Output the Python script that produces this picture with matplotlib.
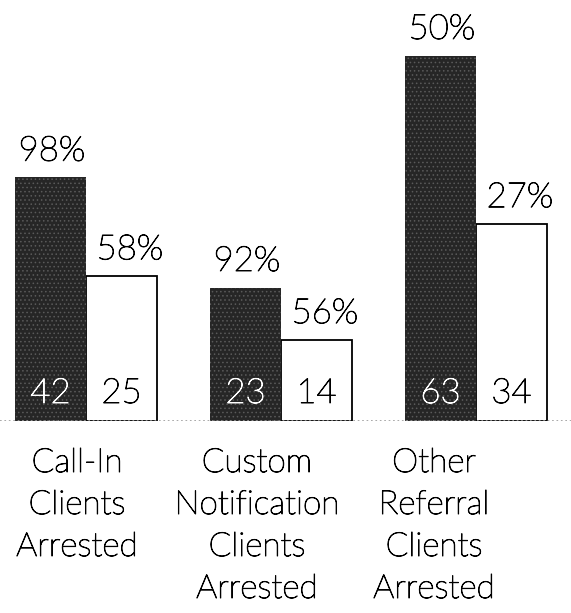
import matplotlib
matplotlib.use("Agg")
import matplotlib.pyplot as plt
import matplotlib.patheffects as pe
import numpy as np

# data
categories = ["Call-In\nClients\nArrested",
              "Custom\nNotification\nClients\nArrested",
              "Other\nReferral\nClients\nArrested"]
dark_counts = [42, 23, 63]
white_counts = [25, 14, 34]
dark_pct = ["98%", "92%", "50%"]
white_pct = ["58%", "56%", "27%"]

# layout
W, H = 571, 613
base_px = 421          # baseline, pixels from top
px_per_unit = 5.8
group_px = 195
first_px = 86
bar_w = 71 / group_px
label_shift = [-0.046, -0.123, -0.215]

plt.rcParams["font.family"] = ["Lato", "DejaVu Sans"]
plt.rcParams["hatch.color"] = "#5a5a5a"
plt.rcParams["hatch.linewidth"] = 0.6

fig = plt.figure(figsize=(W / 100, H / 100), dpi=100)
ax = fig.add_axes([0, (H - base_px) / H, 1, base_px / H])
ax.set_xlim(-first_px / group_px, (W - first_px) / group_px)
ax.set_ylim(0, base_px / px_per_unit)
ax.axis("off")

x = np.arange(len(categories))
ax.bar(x - bar_w / 2, dark_counts, bar_w, color="#262626",
       hatch="....", linewidth=0, zorder=2)
ax.bar(x + bar_w / 2, white_counts, bar_w, color="white",
       edgecolor="black", linewidth=1.3, zorder=1)

ax.axhline(0, color="#999999", linestyle=":", linewidth=1.2, zorder=3)

fs = 25
thick_k = [pe.withStroke(linewidth=0.7, foreground="black")]
thick_w = [pe.withStroke(linewidth=0.7, foreground="white")]
tk = dict(fontsize=fs, fontweight="light", color="black", path_effects=thick_k)
for i in range(len(categories)):
    ax.annotate(dark_pct[i], (x[i] - bar_w / 2, dark_counts[i]),
                xytext=(1, 12), textcoords="offset points",
                ha="center", va="baseline", **tk)
    ax.annotate(white_pct[i], (x[i] + bar_w / 2, white_counts[i]),
                xytext=(6, 12), textcoords="offset points",
                ha="center", va="baseline", **tk)
    ax.annotate(str(dark_counts[i]), (x[i] - bar_w / 2, 0),
                xytext=(0, 13), textcoords="offset points",
                ha="center", va="baseline", fontsize=fs, fontweight="light",
                color="white", path_effects=thick_w, zorder=4)
    ax.annotate(str(white_counts[i]), (x[i] + bar_w / 2, 0),
                xytext=(0, 13), textcoords="offset points",
                ha="center", va="baseline", zorder=4, **tk)
    lx = (first_px + (x[i] + label_shift[i]) * group_px) / W
    fig.text(lx, 1 - 448 / H, categories[i], ha="center", va="top",
             linespacing=1.5, fontsize=24, fontweight="light",
             color="black", path_effects=thick_k)

fig.savefig("out.png", dpi=100)
